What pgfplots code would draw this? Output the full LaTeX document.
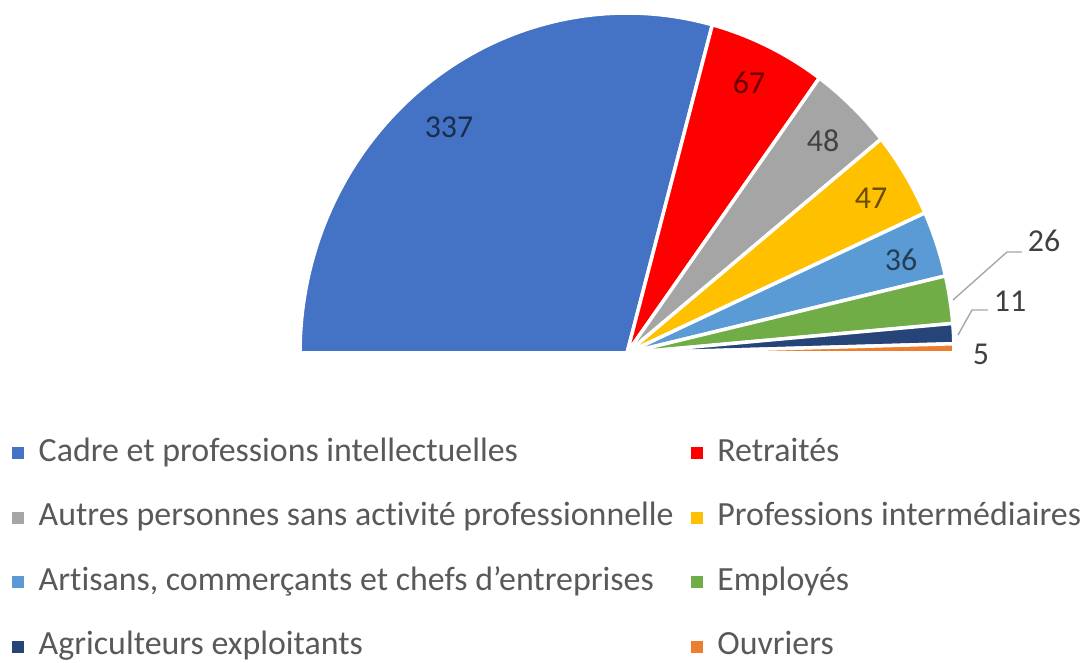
\documentclass[border=0pt]{standalone}
\usepackage{pgfplots}
\pgfplotsset{compat=1.18}
\usepackage{pgfplotstable}
\usepackage{fontspec}
\setmainfont[Ligatures=NoCommon]{Carlito}

\definecolor{slice0}{HTML}{4472C4}
\definecolor{slice1}{HTML}{FF0000}
\definecolor{slice2}{HTML}{A5A5A5}
\definecolor{slice3}{HTML}{FFC000}
\definecolor{slice4}{HTML}{5B9BD5}
\definecolor{slice5}{HTML}{70AD47}
\definecolor{slice6}{HTML}{264478}
\definecolor{slice7}{HTML}{ED7D31}
\definecolor{txt}{HTML}{595959}
\definecolor{lbl}{HTML}{404040}

% values of the eight categories
\pgfplotstableread{
value
337
67
48
47
36
26
11
5
}\datatable

% total
\gdef\total{0}
\foreach \i in {0,...,7}{%
  \pgfplotstablegetelem{\i}{value}\of\datatable
  \pgfmathsetmacro\t{\total+\pgfplotsretval}%
  \xdef\total{\t}%
}
% start/end angles of each slice (half pie, from 180 deg clockwise to 0 deg)
\gdef\cum{0}
\foreach \i in {0,...,7}{%
  \pgfplotstablegetelem{\i}{value}\of\datatable
  \let\v\pgfplotsretval
  \pgfmathsetmacro\fa{\cum/\total}%
  \pgfmathsetmacro\a{180-180*\fa}%
  \pgfmathsetmacro\nc{\cum+\v}%
  \pgfmathsetmacro\fb{\nc/\total}%
  \pgfmathsetmacro\b{180-180*\fb}%
  \expandafter\xdef\csname sa\i\endcsname{\a}%
  \expandafter\xdef\csname sb\i\endcsname{\b}%
  \xdef\cum{\nc}%
}

\begin{document}
\begin{tikzpicture}
\begin{axis}[
  x=1bp, y=1bp, xmin=0, xmax=1090, ymin=0, ymax=659,
  scale only axis, hide axis, clip=false,
  legend columns=2,
  legend cell align=left,
  legend style={at={(0.011,0.3338)}, anchor=north west, draw=none, fill=none,
    inner sep=0pt, outer sep=0pt, font=\fontsize{34}{40}\selectfont, text=txt,
    row sep=34.5bp, nodes={inner sep=0pt, text height=22bp, text depth=8bp},
    /tikz/every even column/.append style={column sep=17bp}},
  legend image code/.code={\fill[#1,draw=none] (0bp,-5bp) rectangle (12bp,7bp); \path (25bp,0bp);},
  pie slice/.style={draw=white, line width=3.5bp, line join=round},
]
\pgfplotsinvokeforeach{0,...,7}{%
  \edef\temp{\noexpand\addplot[pie slice, fill=slice#1, domain=\csname sb#1\endcsname:\csname sa#1\endcsname, samples=90]
    ({627+327*cos(x)},{306+340*sin(x)}) -- (axis cs:627,306) -- cycle;}%
  \temp
}
\legend{Cadre et professions intellectuelles, Retraités,
  Autres personnes sans activité professionnelle, Professions intermédiaires,
  {Artisans, commerçants et chefs d’entreprises}, Employés,
  Agriculteurs exploitants, Ouvriers}

% leader lines
\addplot[forget plot, color=black!35, line width=1.4bp] coordinates {(953,359) (1007,407) (1022,407)};
\addplot[forget plot, color=black!35, line width=1.4bp] coordinates {(958,324) (972,349) (988,349)};

% labels inside slices
\addplot[forget plot, only marks, mark=none, nodes near coords, point meta=explicit symbolic,
  every node near coord/.append style={font=\fontsize{32}{38}\selectfont, text=black, text opacity=0.6, anchor=center}]
  table[meta=lab]{
x y lab
449 532 337
749 576 67
823 518 48
871 461 47
901 399 36
};
% labels outside
\addplot[forget plot, only marks, mark=none, nodes near coords, point meta=explicit symbolic,
  every node near coord/.append style={font=\fontsize{32}{38}\selectfont, text=lbl, anchor=center}]
  table[meta=lab]{
x y lab
1044 418 26
1010 358 11
981 305 5
};
\end{axis}
\path (current axis.south west) rectangle (current axis.north east);
\end{tikzpicture}
\end{document}
